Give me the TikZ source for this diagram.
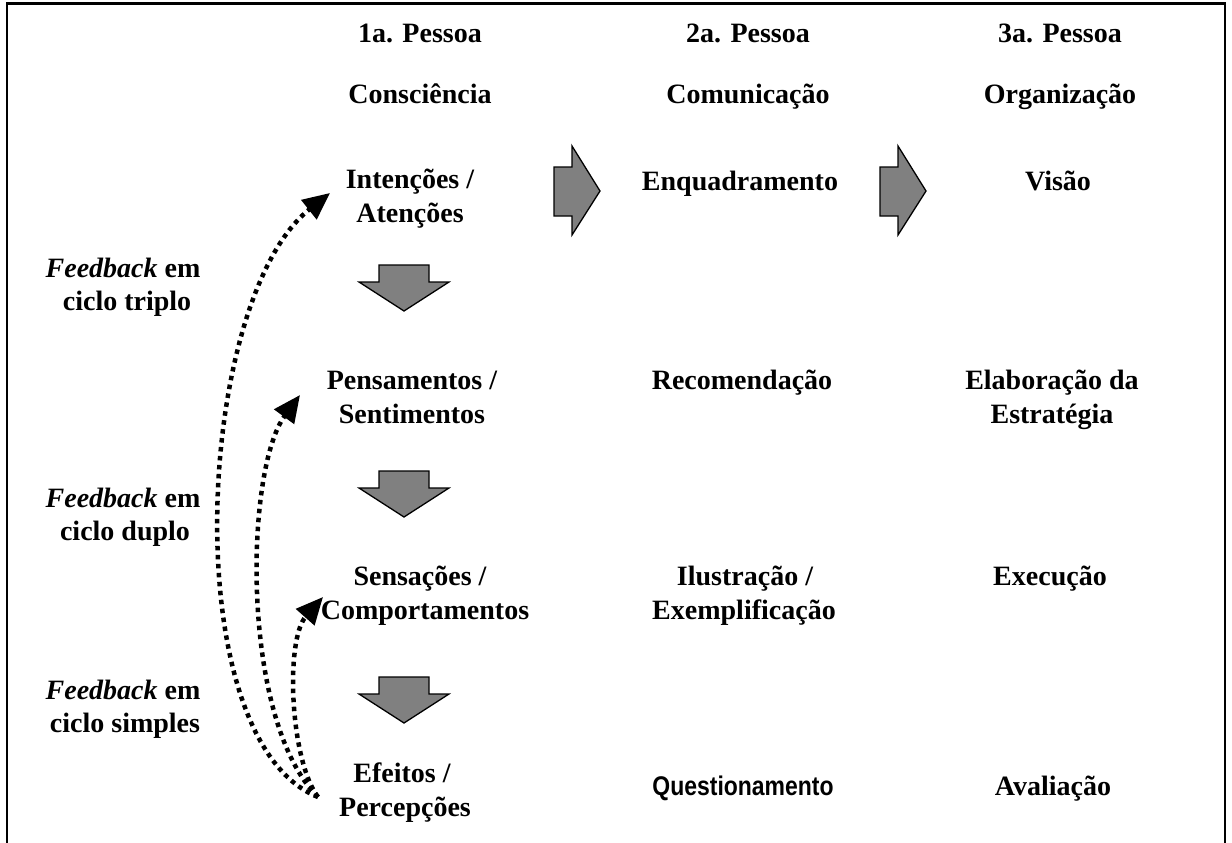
\documentclass[tikz,border=0pt]{standalone}
\usepackage{fontspec}
\setmainfont{Liberation Serif}
\newfontfamily\sansfam[FakeStretch=0.85]{Liberation Sans}
\usetikzlibrary{arrows.meta}
\begin{document}
\begin{tikzpicture}[x=1pt,y=-1pt,
  lbl/.style={anchor=base,inner sep=0pt,font=\fontsize{28}{33}\selectfont\bfseries},
  sanslbl/.style={anchor=base,inner sep=0pt,font=\fontsize{27}{31}\selectfont\sansfam\bfseries},
  fb/.style={line width=4.5pt,dash pattern=on 4.5pt off 4.5pt,
    -{Triangle[length=27pt,width=24pt]}},
  bigarrow/.style={fill=gray,draw=black,line width=1.3pt,line join=miter}]
\useasboundingbox (0,0) rectangle (1232,843);
% open frame: top edge and both sides
\draw[line width=2.2pt] (7,843) -- (7,3.5) -- (1225,3.5) -- (1225,843);

% column headings
\node[lbl] (p1) at (420,43) {1a. Pessoa};
\node[lbl] (p2) at (748,43) {2a. Pessoa};
\node[lbl] (p3) at (1060,43) {3a. Pessoa};
\node[lbl] (h1) at (420,103) {Consciência};
\node[lbl] (h2) at (748,103) {Comunicação};
\node[lbl] (h3) at (1060,103) {Organização};

% first person column
\node[lbl] (int1) at (410,188) {Intenções /};
\node[lbl] (int2) at (410,222) {Atenções};
\node[lbl] (pen1) at (412,389) {Pensamentos /};
\node[lbl] (pen2) at (412,423) {Sentimentos};
\node[lbl] (sen1) at (420,585) {Sensações /};
\node[lbl] (sen2) at (425,619) {Comportamentos};
\node[lbl] (efe1) at (402,782) {Efeitos /};
\node[lbl] (efe2) at (405,816) {Percepções};

% second person column
\node[lbl] (enq) at (740,190) {Enquadramento};
\node[lbl] (rec) at (742,389) {Recomendação};
\node[lbl] (ilu1) at (745,585) {Ilustração /};
\node[lbl] (ilu2) at (744,619) {Exemplificação};
\node[sanslbl] (que) at (743,795) {Questionamento};

% third person column
\node[lbl] (vis) at (1058,190) {Visão};
\node[lbl] (ela1) at (1052,389) {Elaboração da};
\node[lbl] (ela2) at (1052,423) {Estratégia};
\node[lbl] (exe) at (1050,585) {Execução};
\node[lbl] (ava) at (1053,795) {Avaliação};

% feedback labels
\node[lbl] (ft1) at (123,277) {\textit{Feedback} em};
\node[lbl] (ft2) at (127,310) {ciclo triplo};
\node[lbl] (fd1) at (123,507) {\textit{Feedback} em};
\node[lbl] (fd2) at (125,540) {ciclo duplo};
\node[lbl] (fs1) at (123,699) {\textit{Feedback} em};
\node[lbl] (fs2) at (125,732) {ciclo simples};

% block arrows to the right
\draw[bigarrow,shift={(554,146)}] (0,21) -- (18,21) -- (18,0) -- (46,45)
  -- (18,89) -- (18,70) -- (0,70) -- cycle;
\draw[bigarrow,shift={(880,146)}] (0,21) -- (18,21) -- (18,0) -- (46,45)
  -- (18,89) -- (18,70) -- (0,70) -- cycle;

% block arrows downwards
\foreach \yy in {265,471,677}{
  \draw[bigarrow,shift={(404,\yy)}] (-25,0) -- (25,0) -- (25,17) -- (45,17)
    -- (0,46) -- (-45,17) -- (-25,17) -- cycle;
}

% feedback loops
\coordinate (src) at (318,797);
\coordinate (tipT) at (330,193);
\coordinate (tipD) at (300,395);
\coordinate (tipS) at (323,597);
\draw[fb] (src) .. controls (175,740) and (195,300) .. (tipT);
\draw[fb] (src) .. controls (240,720) and (245,470) .. (tipD);
\draw[fb] (src) .. controls (290,760) and (285,640) .. (tipS);
\end{tikzpicture}
\end{document}
